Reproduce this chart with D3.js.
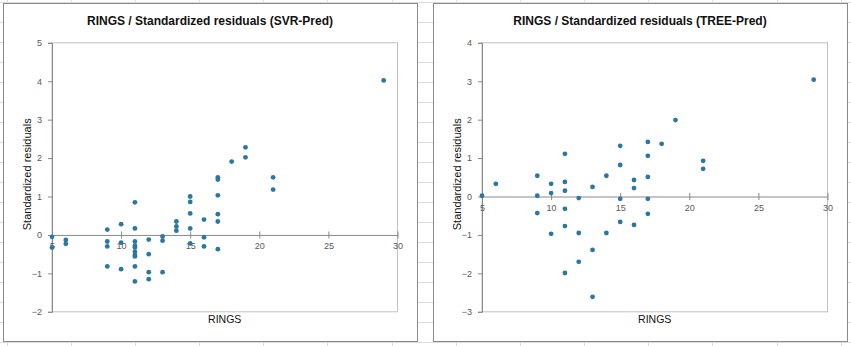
<!DOCTYPE html>
<html>
<head>
<meta charset="utf-8">
<script src="https://cdn.jsdelivr.net/npm/d3@7"></script>
<style>
  html, body { margin: 0; padding: 0; background: #fff; }
  svg { display: block; }
</style>
</head>
<body>
<svg id="sheet" width="851" height="346"></svg>
<script>
// RINGS vs standardized residuals, SVR model
const svrRings = [5, 5, 6, 6, 9, 9, 9, 9, 10, 10, 10,
  11, 11, 11, 11, 11, 11, 11, 11, 11, 11,
  12, 12, 12, 12, 13, 13, 13, 14, 14, 14,
  15, 15, 15, 15, 15, 16, 16, 16,
  17, 17, 17, 17, 17, 17, 18, 19, 19, 21, 21, 29];
const svrResid = [-0.05, -0.33, -0.13, -0.23, 0.14, -0.17, -0.30, -0.82, 0.28, -0.20, -0.89,
  0.85, 0.17, -0.17, -0.28, -0.33, -0.44, -0.52, -0.56, -0.82, -1.21,
  -0.12, -0.50, -0.97, -1.15, -0.04, -0.15, -0.97, 0.35, 0.22, 0.11,
  1.00, 0.86, 0.56, 0.17, -0.22, 0.40, -0.06, -0.30,
  1.50, 1.44, 1.03, 0.54, 0.35, -0.37, 1.91, 2.28, 2.02, 1.50, 1.18, 4.02];

// RINGS vs standardized residuals, regression tree model
const treeRings = [5, 6, 9, 9, 9, 10, 10, 10,
  11, 11, 11, 11, 11, 11, 12, 12, 12, 13, 13, 13, 14, 14,
  15, 15, 15, 15, 16, 16, 16, 17, 17, 17, 17, 17, 18, 19, 21, 21, 29];
const treeResid = [0.02, 0.33, 0.54, 0.02, -0.43, 0.33, 0.09, -0.97,
  1.11, 0.38, 0.15, -0.32, -0.77, -1.99, -0.04, -0.95, -1.70, 0.25, -1.39, -2.61, 0.54, -0.95,
  1.32, 0.82, -0.06, -0.66, 0.43, 0.22, -0.74, 1.42, 1.06, 0.51, -0.06, -0.45, 1.37, 1.99, 0.93, 0.72, 3.04];

const xTicks = [5, 10, 15, 20, 25, 30];
const svrYTicks = [-2, -1, 0, 1, 2, 3, 4, 5];
const treeYTicks = [-3, -2, -1, 0, 1, 2, 3, 4];

const titles = ["RINGS / Standardized residuals (SVR-Pred)", "RINGS / Standardized residuals (TREE-Pred)"];
const xTitle = "RINGS";
const yTitle = "Standardized residuals";

const svg = d3.select("#sheet");
const W = 851, H = 346;

// spreadsheet cell grid behind the charts
const colStep = 64.17, rowStep = 20;
const grid = svg.append("g").attr("stroke", "#dadada").attr("stroke-width", 1);
d3.range(6.5, W, colStep).forEach(x => {
  grid.append("line").attr("x1", Math.round(x) + 0.5).attr("x2", Math.round(x) + 0.5).attr("y1", 0).attr("y2", H);
});
d3.range(2, H, rowStep).forEach(y => {
  grid.append("line").attr("y1", Math.round(y) + 0.5).attr("y2", Math.round(y) + 0.5).attr("x1", 0).attr("x2", W);
});

const fontFam = "'Liberation Sans', Arial, sans-serif";
const dotColor = "#2c77a0";

function drawPanel(x0, title, rings, resid, yTicks) {
  const boxW = 414, boxH = 338, y0 = 3;
  const g = svg.append("g").attr("transform", `translate(${x0},${y0})`);
  g.append("rect").attr("x", 0.5).attr("y", 0.5).attr("width", boxW).attr("height", boxH)
    .attr("fill", "#fff").attr("stroke", "#8a8a8a");

  const pl = 49, pt = 39.8, pw = 345.5, ph = 269;
  const x = d3.scaleLinear().domain([5, 30]).range([pl, pl + pw]);
  const y = d3.scaleLinear().domain([yTicks[0], yTicks[yTicks.length - 1]]).range([pt + ph, pt]);

  // plot area frame
  g.append("rect").attr("x", pl).attr("y", pt).attr("width", pw).attr("height", ph)
    .attr("fill", "none").attr("stroke", "#c0c0c0").attr("stroke-width", 1);

  // y axis on the left edge
  const yAxis = d3.axisLeft(y).tickValues(yTicks).tickSize(4).tickPadding(6).tickFormat(d3.format("d"));
  const ya = g.append("g").attr("transform", `translate(${pl},0)`).call(yAxis);
  ya.select(".domain").attr("stroke", "#8a8a8a");
  ya.selectAll(".tick line").attr("stroke", "#8a8a8a");
  ya.selectAll(".tick text").attr("fill", "#595959").attr("font-size", 9).attr("font-family", fontFam);

  // x axis crosses at zero, ticks crossing the line
  const xAxis = d3.axisBottom(x).tickValues(xTicks).tickSize(0).tickPadding(8).tickFormat(d3.format("d"));
  const xa = g.append("g").attr("transform", `translate(0,${y(0)})`).call(xAxis);
  xa.select(".domain").attr("stroke", "#8a8a8a");
  xa.selectAll(".tick").append("line").attr("y1", -3.5).attr("y2", 3.5).attr("stroke", "#8a8a8a");
  xa.selectAll(".tick text").attr("fill", "#595959").attr("font-size", 9).attr("font-family", fontFam);

  // points
  g.append("g").selectAll("circle").data(rings.map((r, i) => [r, resid[i]])).join("circle")
    .attr("cx", d => x(d[0])).attr("cy", d => y(d[1])).attr("r", 2.4).attr("fill", dotColor);

  // titles
  g.append("text").attr("x", boxW / 2).attr("y", 21.6).attr("text-anchor", "middle")
    .attr("font-family", fontFam).attr("font-weight", "bold").attr("font-size", 12).attr("fill", "#111")
    .text(title);
  g.append("text").attr("x", pl + pw / 2).attr("y", 320.3).attr("text-anchor", "middle")
    .attr("font-family", fontFam).attr("font-size", 10.5).attr("fill", "#111").text(xTitle);
  g.append("text").attr("transform", `translate(27.5,${pt + ph / 2 - 3}) rotate(-90)`).attr("text-anchor", "middle")
    .attr("font-family", fontFam).attr("font-size", 11).attr("fill", "#111").text(yTitle);
}

drawPanel(3, titles[0], svrRings, svrResid, svrYTicks);
drawPanel(433, titles[1], treeRings, treeResid, treeYTicks);
</script>
</body>
</html>
